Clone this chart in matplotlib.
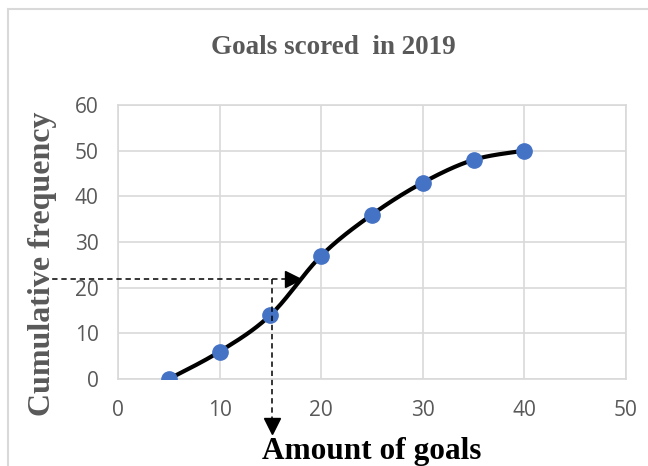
import numpy as np
import matplotlib.pyplot as plt
from matplotlib.patches import Rectangle

# data
goals = [5, 10, 15, 20, 25, 30, 35, 40]
cum_freq = [0, 6, 14, 27, 36, 43, 48, 50]
x_ticks = [0, 10, 20, 30, 40, 50]
y_ticks = [0, 10, 20, 30, 40, 50, 60]
median_y = 22
median_x = 15.2

GRAY = '#595959'
GRID = '#d9d9d9'
BLUE = '#4472C4'
SERIF = 'Liberation Serif'


def smooth(xs, ys, sx=10.16, sy=4.57, n=30):
    # Excel-like smoothed line (bezier through points, tension 1/6)
    p = np.column_stack([np.array(xs) * sx, np.array(ys) * sy])
    pts = []
    for i in range(len(p) - 1):
        p0 = p[max(i - 1, 0)]
        p1, p2 = p[i], p[i + 1]
        p3 = p[min(i + 2, len(p) - 1)]
        c1 = p1 + (p2 - p0) / 6
        c2 = p2 - (p3 - p1) / 6
        t = np.linspace(0, 1, n)[:, None]
        seg = (1 - t) ** 3 * p1 + 3 * (1 - t) ** 2 * t * c1 + 3 * (1 - t) * t ** 2 * c2 + t ** 3 * p2
        pts.append(seg)
    pts = np.vstack(pts)
    return pts[:, 0] / sx, pts[:, 1] / sy


fig = plt.figure(figsize=(6.48, 4.66), dpi=100)
ax = fig.add_axes([0.1821, 0.1867, 0.7840, 0.588])

ax.set_xlim(0, 50)
ax.set_ylim(0, 60)
ax.set_xticks(x_ticks)
ax.set_yticks(y_ticks)
ax.grid(True, color=GRID, linewidth=1.2)
ax.set_axisbelow(True)
for s in ax.spines.values():
    s.set_color(GRID)
    s.set_linewidth(1.2)
ax.tick_params(length=0, labelsize=15, labelcolor=GRAY)
ax.tick_params(axis='x', pad=15)
ax.tick_params(axis='y', pad=14)
for lab in ax.get_xticklabels() + ax.get_yticklabels():
    lab.set_fontfamily('Open Sans')

sx, sy = smooth(goals, cum_freq)
ax.plot(sx, sy, color='black', linewidth=3, solid_capstyle='round', zorder=3)
ax.plot(goals, cum_freq, 'o', color=BLUE, markersize=11, zorder=4)

# dashed reading lines with arrow heads
ax.plot([-7.4, 16.5], [median_y, median_y], color='black', linestyle=(0, (3.5, 2.5)),
        linewidth=1.1, clip_on=False, zorder=5)
ax.plot([17.2], [median_y], marker='>', color='black', markersize=12, clip_on=False, zorder=5)
ax.plot([median_x, median_x], [median_y, -8.8], color='black', linestyle=(0, (3.5, 2.5)),
        linewidth=1.1, clip_on=False, zorder=5)
ax.plot([median_x], [-10.2], marker='v', color='black', markersize=12, clip_on=False, zorder=5)

fig.text(0.514, 0.899, 'Goals scored  in 2019', ha='center', va='center',
         fontsize=19.5, fontweight='bold', color=GRAY, family=SERIF)
fig.text(0.066, 0.4335, 'Cumulative frequency', ha='center', va='center', rotation=90,
         fontsize=23, fontweight='bold', color=GRAY, family=SERIF)
fig.text(0.574, 0.016, 'Amount of goals', ha='center', va='baseline',
         fontsize=22.5, fontweight='bold', color='black', family=SERIF)

# chart frame
fig.patches.append(Rectangle((8 / 648, -0.1), 1.2, 1.1 - 9 / 466, transform=fig.transFigure,
                             fill=False, edgecolor=GRID, linewidth=1.5, zorder=0))

fig.savefig('out.png', dpi=100)
